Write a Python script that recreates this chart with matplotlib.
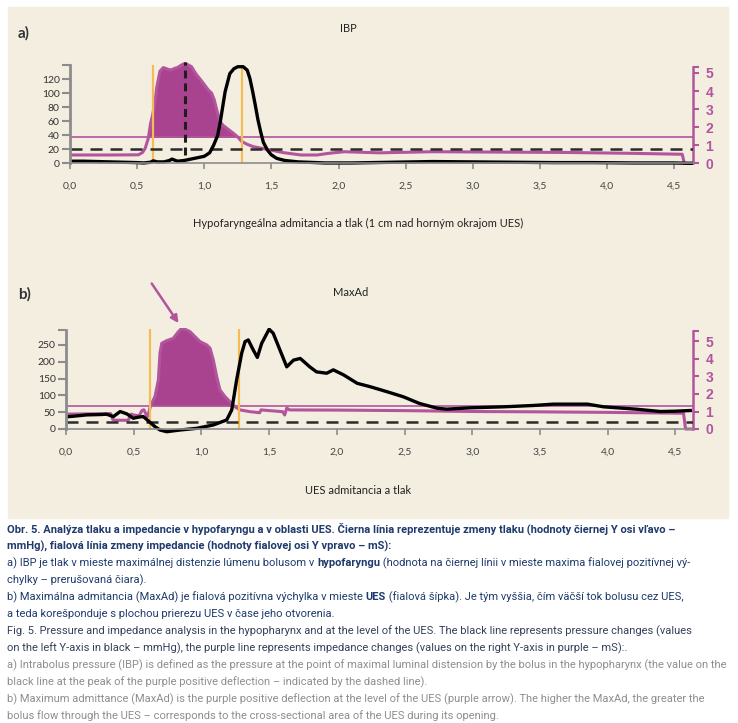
import matplotlib
matplotlib.use("Agg")
import matplotlib.pyplot as plt
from matplotlib.patches import Rectangle

# ---- a) IBP: tlak (mmHg) ----
xa_tlak = [0.0, 0.1, 0.2, 0.3, 0.4, 0.5, 0.55, 0.6, 0.62, 0.65, 0.7, 0.74, 0.76, 0.8, 0.85,
           0.9, 0.95, 1.0, 1.04, 1.07, 1.1, 1.12, 1.155, 1.19, 1.22, 1.25, 1.29, 1.32, 1.34,
           1.36, 1.38, 1.4, 1.42, 1.44, 1.47, 1.5, 1.54, 1.6, 1.7, 1.9, 2.1, 2.4, 2.7, 3.0,
           3.3, 3.6, 3.9, 4.2, 4.5, 4.6, 4.64]
ya_tlak = [3, 3, 2.5, 2, 1.5, 1, 0.5, 1.5, 3.5, 2, 2, 4, 6, 3, 4,
           6, 8, 10, 15, 26, 40, 60, 102, 128, 135, 138, 138, 133, 121,
           103, 83, 62, 45, 30, 19, 12, 7, 4, 2, 0.5, 0.5, 1.5, 2.5, 2,
           1.5, 1, 1, 0.5, 0.5, 0, 0]
# ---- a) impedancia (mS) ----
xa_imp = [0.0, 0.3, 0.51, 0.54, 0.56, 0.583, 0.6, 0.616, 0.635, 0.646, 0.67, 0.695, 0.725,
          0.745, 0.765, 0.78, 0.8, 0.83, 0.857, 0.88, 0.905, 0.925, 0.944, 0.97, 0.993,
          1.03, 1.055, 1.075, 1.093, 1.118, 1.14, 1.168, 1.217, 1.25, 1.28, 1.32, 1.365,
          1.465, 1.59, 1.72, 1.84, 1.925, 2.04, 2.3, 2.7, 3.2, 3.7, 4.2, 4.56, 4.575, 4.64]
ya_imp = [0.46, 0.46, 0.47, 0.6, 0.83, 1.38, 2.2, 2.7, 3.5, 4.2, 5.1, 5.3, 5.22,
          5.17, 5.2, 5.26, 5.3, 5.44, 5.54, 5.45, 5.35, 5.1, 4.89, 4.65, 4.43,
          4.06, 3.88, 3.5, 2.95, 2.3, 2.1, 1.94, 1.66, 1.45, 1.2, 1.05, 0.92,
          0.78, 0.59, 0.46, 0.46, 0.55, 0.64, 0.58, 0.64, 0.62, 0.6, 0.55, 0.5, 0.0, 0.0]
prah_a = 1.44      # mS
ibp_a = 21         # mmHg
ibp_cas = 0.857    # s
ues_a = [0.616, 1.28]

# ---- b) MaxAd: tlak (mmHg) ----
xb_tlak = [0.0, 0.08, 0.153, 0.25, 0.3, 0.35, 0.4, 0.449, 0.497, 0.53, 0.571, 0.6, 0.657,
           0.694, 0.744, 0.842, 0.965, 1.088, 1.187, 1.224, 1.26, 1.297, 1.322, 1.346,
           1.383, 1.413, 1.445, 1.5, 1.53, 1.58, 1.63, 1.68, 1.73, 1.8, 1.85, 1.925,
           1.974, 2.05, 2.15, 2.245, 2.37, 2.49, 2.61, 2.74, 2.81, 2.98, 3.23, 3.45,
           3.6, 3.85, 3.97, 4.21, 4.39, 4.5, 4.61]
yb_tlak = [36, 39, 42, 43, 44, 37, 52, 45, 32, 35, 37, 27, 7,
           -3, -8, -3, 2, 12, 27, 57, 146, 225, 260, 265,
           235, 213, 255, 297, 285, 235, 185, 205, 210, 185, 170, 166,
           176, 161, 136, 126, 111, 96, 76, 62, 59, 63, 66, 70,
           74, 74, 66, 59, 52, 53, 55]
# ---- b) impedancia (mS) ----
xb_imp = [0.0, 0.33, 0.345, 0.36, 0.46, 0.48, 0.5, 0.54, 0.56, 0.575, 0.6, 0.61, 0.625,
          0.657, 0.682, 0.694, 0.707, 0.744, 0.792, 0.83, 0.854, 0.879, 0.916, 0.953,
          0.99, 1.04, 1.064, 1.088, 1.113, 1.137, 1.174, 1.211, 1.248, 1.285, 1.359,
          1.43, 1.44, 1.6, 1.615, 1.63, 1.65, 2.0, 2.5, 3.0, 3.5, 4.0, 4.56, 4.575, 4.63]
yb_imp = [0.85, 0.88, 0.55, 0.5, 0.5, 0.85, 0.8, 0.75, 1.05, 1.1, 0.7, 0.9, 1.35,
          1.85, 2.8, 4.33, 4.9, 5.05, 5.18, 5.56, 5.75, 5.7, 5.56, 5.27,
          4.99, 4.8, 4.61, 3.94, 2.99, 2.23, 1.85, 1.56, 1.27, 1.09, 0.99,
          0.93, 1.09, 0.99, 0.8, 1.2, 1.09, 1.08, 1.05, 1.0, 0.98, 0.95, 0.9, 0.0, 0.0]
prah_b = 1.31
ibp_b = 20
ues_b = [0.62, 1.28]
sipka_od = (0.633, 433)
sipka_do = (0.831, 315)

x_ticks = [0.0, 0.5, 1.0, 1.5, 2.0, 2.5, 3.0, 3.5, 4.0, 4.5]
x_labels = [f"{t:.1f}".replace(".", ",") for t in x_ticks]

fialova = "#a9438f"
fialova_ciara = "#b2559d"
oranzova = "#f5bb55"
siva = "#8c8c8c"
bezova = "#f3eee0"
font_graf = ["Lato", "DejaVu Sans"]
font_popis = ["Liberation Sans Narrow", "Roboto", "DejaVu Sans"]

W, H = 738, 723
fig = plt.figure(figsize=(W / 100, H / 100), dpi=100)
fig.patches.append(Rectangle((8 / W, 1 - 518 / H), 720 / W, 511 / H,
                             transform=fig.transFigure, color=bezova, zorder=-10))


def panel(left, right, y0, px_l, px_r, ylim, xmax, lticks, ltop, rtop):
    # y0 = pixel nuly, px_l / px_r = pixely na jednotku lavej / pravej osi
    bottom = y0 - ylim[0] * px_l
    top = y0 - ylim[1] * px_l
    ax = fig.add_axes([left / W, 1 - bottom / H, (right - left) / W, (bottom - top) / H])
    ax.set_xlim(0, xmax)
    ax.set_ylim(*ylim)
    tw = ax.twinx()
    tw.set_ylim(ylim[0] * px_l / px_r, ylim[1] * px_l / px_r)
    ax.set_zorder(tw.get_zorder() + 1)
    ax.patch.set_visible(False)
    tw.patch.set_visible(False)

    for s in ["top", "right"]:
        ax.spines[s].set_visible(False)
    for s in ["top", "left", "bottom"]:
        tw.spines[s].set_visible(False)
    ax.spines["left"].set_bounds(0, ltop)
    ax.spines["left"].set_color(siva)
    ax.spines["left"].set_linewidth(2)
    ax.spines["bottom"].set_position(("data", 0))
    ax.spines["bottom"].set_color(siva)
    ax.spines["bottom"].set_linewidth(1.2)
    tw.spines["right"].set_bounds(0, rtop)
    tw.spines["right"].set_color(fialova_ciara)
    tw.spines["right"].set_linewidth(1.8)

    ax.set_yticks(lticks + [ltop])
    ax.set_yticklabels([str(t) for t in lticks] + [""])
    ax.tick_params(axis="y", colors=siva, labelcolor="#333333", length=5.5, width=1.5,
                   pad=2, labelsize=7.5)
    ax.set_xticks(x_ticks)
    ax.set_xticklabels(x_labels)
    ax.tick_params(axis="x", colors=siva, labelcolor="#444444", length=4.5, width=1.2,
                   pad=9, labelsize=7.5)
    tw.set_yticks([0, 1, 2, 3, 4, 5, rtop])
    tw.set_yticklabels(["0", "1", "2", "3", "4", "5", ""])
    tw.tick_params(axis="y", colors=fialova_ciara, length=4, width=1.5, pad=5, labelsize=10)
    for t in ax.get_xticklabels() + ax.get_yticklabels():
        t.set_family(font_graf)
    for t in tw.get_yticklabels():
        t.set_family(["Liberation Sans", "DejaVu Sans"])
        t.set_fontweight("bold")
    return ax, tw


# ---- panel a ----
ax, tw = panel(70, 693, 163.3, 0.7, 18.06, (-8, 145), 4.64, [0, 20, 40, 60, 80, 100, 120], 140, 5.35)
tw.fill_between(xa_imp, ya_imp, prah_a, where=[v > prah_a for v in ya_imp], interpolate=True,
                color=fialova, lw=0)
tw.axhline(prah_a, color=fialova_ciara, lw=1.2)
tw.plot(xa_imp, ya_imp, color=fialova_ciara, lw=2.2, solid_joinstyle="round")
ax.vlines(ues_a, 0, 140, color=oranzova, lw=1.6)
ax.axhline(ibp_a, color="#2b2b2b", lw=1.8, linestyle=(0, (4.8, 3.2)))
ax.vlines(ibp_cas, 12, 145, color="#1e1e1e", lw=2.2, linestyles=[(0, (2.6, 1.6))])
ax.plot(xa_tlak, ya_tlak, color="black", lw=2.4, solid_joinstyle="round")

# ---- panel b ----
bx, tb = panel(66, 693, 429, 0.336, 17.5, (-15, 300), 4.63, [0, 50, 100, 150, 200, 250], 295, 5.6)
tb.fill_between(xb_imp, yb_imp, prah_b, where=[v > prah_b for v in yb_imp], interpolate=True,
                color=fialova, lw=0)
tb.axhline(prah_b, color=fialova_ciara, lw=1.2)
tb.plot(xb_imp, yb_imp, color=fialova_ciara, lw=2.2, solid_joinstyle="round")
bx.vlines(ues_b, 0, 297, color=oranzova, lw=1.6)
bx.axhline(ibp_b, color="#2b2b2b", lw=1.8, linestyle=(0, (4.8, 3.2)))
bx.plot(xb_tlak, yb_tlak, color="black", lw=2.4, solid_joinstyle="round")
bx.annotate("", xy=sipka_do, xytext=sipka_od, annotation_clip=False,
            arrowprops=dict(arrowstyle="-|>", color=fialova_ciara, lw=1.8, mutation_scale=11,
                            shrinkA=0, shrinkB=0))

# ---- texty v grafe ----
def px_text(x, y, s, **kw):
    fig.text(x / W, 1 - y / H, s, va="center", **kw)

px_text(18, 33, "a)", fontsize=11, fontweight="bold", color="#333333", family=font_graf)
px_text(18, 294, "b)", fontsize=11, fontweight="bold", color="#333333", family=font_graf)
px_text(348, 28, "IBP", fontsize=8, color="#222222", ha="center", family=font_graf)
px_text(351, 293, "MaxAd", fontsize=8, color="#222222", ha="center", family=font_graf)
px_text(358, 223, "Hypofaryngeálna admitancia a tlak (1 cm nad horným okrajom UES)",
        fontsize=8, color="#222222", ha="center", family=font_graf)
px_text(358, 490, "UES admitancia a tlak", fontsize=8, color="#222222", ha="center",
        family=font_graf)

# ---- popis obrazku ----
modra = "#1f3a6c"
tmava = "#34405a"
svetla = "#8e8e8e"
riadky = [
    ([("Obr. 5. Analýza tlaku a impedancie v hypofaryngu a v oblasti UES. Čierna línia reprezentuje zmeny tlaku (hodnoty čiernej Y osi vľavo –", True)], modra),
    ([("mmHg), fialová línia zmeny impedancie (hodnoty fialovej osi Y vpravo – mS):", True)], modra),
    ([("a) IBP je tlak v mieste maximálnej distenzie lúmenu bolusom v ", False), ("hypofaryngu", True),
      (" (hodnota na čiernej línii v mieste maxima fialovej pozitívnej vý-", False)], modra),
    ([("chylky – prerušovaná čiara).", False)], modra),
    ([("b) Maximálna admitancia (MaxAd) je fialová pozitívna výchylka v mieste ", False), ("UES", True),
      (" (fialová šípka). Je tým vyššia, čím väčší tok bolusu cez UES,", False)], modra),
    ([("a teda korešponduje s plochou prierezu UES v čase jeho otvorenia.", False)], modra),
    ([("Fig. 5. Pressure and impedance analysis in the hypopharynx and at the level of the UES. The black line represents pressure changes (values", False)], tmava),
    ([("on the left Y-axis in black – mmHg), the purple line represents impedance changes (values on the right Y-axis in purple – mS):.", False)], tmava),
    ([("a) Intrabolus pressure (IBP) is defined as the pressure at the point of maximal luminal distension by the bolus in the hypopharynx (the value on the", False)], svetla),
    ([("black line at the peak of the purple positive deflection – indicated by the dashed line).", False)], svetla),
    ([("b) Maximum admittance (MaxAd) is the purple positive deflection at the level of the UES (purple arrow). The higher the MaxAd, the greater the", False)], svetla),
    ([("bolus flow through the UES – corresponds to the cross-sectional area of the UES during its opening.", False)], svetla),
]

r = fig.canvas.get_renderer()


def sirka_riadku(casti, velkost):
    spolu = 0
    for txt, hrube in casti:
        t = fig.text(0, 0, txt, fontsize=velkost, family=font_popis,
                     fontweight="bold" if hrube else "normal")
        spolu += t.get_window_extent(renderer=r).width
        t.remove()
    return spolu


najsirsi = max(sirka_riadku(casti, 10) for casti, _ in riadky)
velkost = 10 * 720 / najsirsi

for i, (casti, farba) in enumerate(riadky):
    x = 7
    y = 529 + 17 * i
    for txt, hrube in casti:
        t = fig.text(x / W, 1 - y / H, txt, fontsize=velkost, color=farba, va="center",
                     fontweight="bold" if hrube else "normal", family=font_popis)
        x += t.get_window_extent(renderer=r).width

fig.savefig("out.png", dpi=100)
